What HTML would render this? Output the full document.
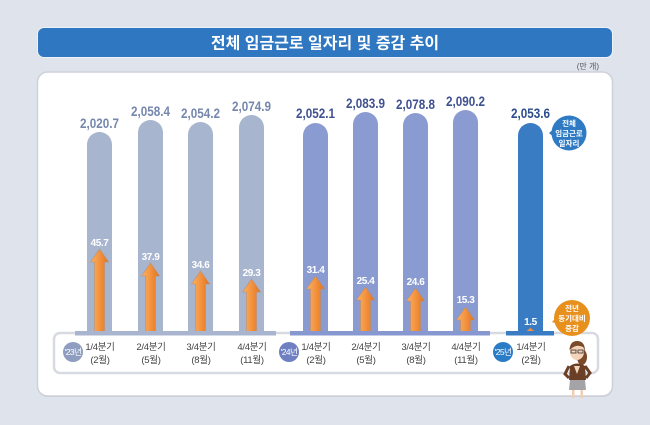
<!DOCTYPE html>
<html><head><meta charset="utf-8">
<style>
html,body{margin:0;padding:0;background:#dfe3ec;}
svg{display:block;}
text{font-family:"Liberation Sans","Noto Sans CJK KR",sans-serif;}
</style></head>
<body>
<svg width="650" height="425" viewBox="0 0 650 425" xmlns="http://www.w3.org/2000/svg">
<defs>
<linearGradient id="ar" x1="0" x2="1" y1="0" y2="0">
<stop offset="0" stop-color="#fbb263"/><stop offset="0.5" stop-color="#f39340"/><stop offset="1" stop-color="#e2731c"/>
</linearGradient>
</defs>
<rect width="650" height="425" fill="#dfe3ec"/>
<!-- title -->
<rect x="37" y="27" width="576" height="31" rx="7" fill="#eef1f7"/>
<rect x="38" y="28" width="574" height="29" rx="6" fill="#2f78c1"/>
<text x="325" y="48.5" text-anchor="middle" font-size="16" font-weight="bold" fill="#fff">전체 임금근로 일자리 및 증감 추이</text>
<text x="599" y="69" text-anchor="end" font-size="8" fill="#555">(만 개)</text>
<!-- panel -->
<rect x="38" y="73" width="575" height="324" rx="10" fill="#c9cdd6"/>
<rect x="37.5" y="72" width="575" height="324" rx="10" fill="#fff" stroke="#cdd1d9" stroke-width="1.5"/>
<!-- label box -->
<rect x="54" y="333" width="544" height="40" rx="6" fill="#fff" stroke="#d7dae1" stroke-width="2.5"/>

<!-- bars '23 -->
<g fill="#a8b5cf">
<path d="M87 333 V144.5 A12.5 12.5 0 0 1 112 144.5 V333 Z"/>
<path d="M138 333 V132.5 A12.5 12.5 0 0 1 163 132.5 V333 Z"/>
<path d="M188 333 V134.5 A12.5 12.5 0 0 1 213 134.5 V333 Z"/>
<path d="M239 333 V127.5 A12.5 12.5 0 0 1 264 127.5 V333 Z"/>
</g>
<g fill="#8a9bd1">
<path d="M303 333 V135.5 A12.5 12.5 0 0 1 328 135.5 V333 Z"/>
<path d="M353 333 V124.5 A12.5 12.5 0 0 1 378 124.5 V333 Z"/>
<path d="M403 333 V125.5 A12.5 12.5 0 0 1 428 125.5 V333 Z"/>
<path d="M453 333 V122.5 A12.5 12.5 0 0 1 478 122.5 V333 Z"/>
</g>
<path d="M518 333 V135.5 A12.5 12.5 0 0 1 543 135.5 V333 Z" fill="#3a7cc4"/>

<!-- value labels -->
<g font-size="14" text-anchor="middle" fill="#7587ad" font-weight="bold">
<text x="99.5" y="128" textLength="39" lengthAdjust="spacingAndGlyphs">2,020.7</text>
<text x="150.5" y="116" textLength="39" lengthAdjust="spacingAndGlyphs">2,058.4</text>
<text x="200.5" y="118" textLength="39" lengthAdjust="spacingAndGlyphs">2,054.2</text>
<text x="251.5" y="111" textLength="39" lengthAdjust="spacingAndGlyphs">2,074.9</text>
</g>
<g font-size="14" text-anchor="middle" fill="#3f5190" font-weight="bold">
<text x="315.5" y="118" textLength="39" lengthAdjust="spacingAndGlyphs">2,052.1</text>
<text x="365.5" y="108" textLength="39" lengthAdjust="spacingAndGlyphs">2,083.9</text>
<text x="415.5" y="109" textLength="39" lengthAdjust="spacingAndGlyphs">2,078.8</text>
<text x="465.5" y="106" textLength="39" lengthAdjust="spacingAndGlyphs">2,090.2</text>
<text x="530.5" y="118" fill="#2b4d8c" textLength="39" lengthAdjust="spacingAndGlyphs">2,053.6</text>
</g>

<!-- arrows -->
<g fill="url(#ar)" stroke="#b98a66" stroke-opacity="0.5" stroke-width="1">
<polygon points="99.5,249 108.5,262 104.5,262 104.5,333 94.5,333 94.5,262 90.5,262"/>
<polygon points="150.5,263 159.5,276 155.5,276 155.5,333 145.5,333 145.5,276 141.5,276"/>
<polygon points="200.5,271 209.5,284 205.5,284 205.5,333 195.5,333 195.5,284 191.5,284"/>
<polygon points="251.5,279 260.5,292 256.5,292 256.5,333 246.5,333 246.5,292 242.5,292"/>
<polygon points="315.5,276 324.5,289 320.5,289 320.5,333 310.5,333 310.5,289 306.5,289"/>
<polygon points="365.5,287 374.5,300 370.5,300 370.5,333 360.5,333 360.5,300 356.5,300"/>
<polygon points="415.5,288 424.5,301 420.5,301 420.5,333 410.5,333 410.5,301 406.5,301"/>
<polygon points="465.5,307 474.5,320 470.5,320 470.5,333 460.5,333 460.5,320 456.5,320"/>
<polygon points="530.5,328 536.5,333 524.5,333"/>
</g>
<g font-size="10" text-anchor="middle" fill="#fff" font-weight="bold" letter-spacing="-0.4">
<text x="99.5" y="246">45.7</text>
<text x="150.5" y="260">37.9</text>
<text x="200.5" y="268">34.6</text>
<text x="251.5" y="276">29.3</text>
<text x="315.5" y="273">31.4</text>
<text x="365.5" y="284">25.4</text>
<text x="415.5" y="285">24.6</text>
<text x="465.5" y="303">15.3</text>
<text x="530.5" y="325">1.5</text>
</g>

<!-- base strips -->
<rect x="75" y="331" width="201" height="4.5" fill="#a9b5cf"/>
<rect x="290" y="331" width="200" height="4.5" fill="#8797cf"/>
<rect x="506" y="331" width="48" height="4.5" fill="#3a7cc4"/>

<!-- year circles -->
<circle cx="73" cy="352" r="10" fill="#8e9dc0"/>
<circle cx="289" cy="352" r="10" fill="#6f80c2"/>
<circle cx="503" cy="352" r="10" fill="#2b7cc7"/>
<g font-size="8.5" text-anchor="middle" fill="#fff" letter-spacing="-0.6">
<text x="73" y="355">'23년</text>
<text x="289" y="355">'24년</text>
<text x="503" y="355">'25년</text>
</g>

<!-- quarter labels -->
<g font-size="9.5" text-anchor="middle" fill="#444" letter-spacing="-0.3">
<text x="100" y="350">1/4분기</text><text x="100" y="363">(2월)</text>
<text x="151" y="350">2/4분기</text><text x="151" y="363">(5월)</text>
<text x="201" y="350">3/4분기</text><text x="201" y="363">(8월)</text>
<text x="252" y="350">4/4분기</text><text x="252" y="363">(11월)</text>
<text x="316" y="350">1/4분기</text><text x="316" y="363">(2월)</text>
<text x="366" y="350">2/4분기</text><text x="366" y="363">(5월)</text>
<text x="416" y="350">3/4분기</text><text x="416" y="363">(8월)</text>
<text x="466" y="350">4/4분기</text><text x="466" y="363">(11월)</text>
<text x="531" y="350">1/4분기</text><text x="531" y="363">(2월)</text>
</g>

<!-- callouts -->
<polygon points="549,133 556,127 556,139" fill="#2e7bc4"/>
<circle cx="569" cy="133" r="17.5" fill="#2e7bc4"/>
<g font-size="7.5" text-anchor="middle" fill="#fff" font-weight="bold">
<text x="569" y="126">전체</text>
<text x="569" y="136">임금근로</text>
<text x="569" y="146">일자리</text>
</g>
<polygon points="552,322 560,313 561,325" fill="#e8901e"/>
<circle cx="572" cy="318" r="18" fill="#e8901e"/>
<g font-size="7.5" text-anchor="middle" fill="#fff" font-weight="bold">
<text x="572" y="311">전년</text>
<text x="572" y="321">동기대비</text>
<text x="572" y="331">증감</text>
</g>

<!-- character -->
<g>
<ellipse cx="582" cy="357" rx="5" ry="8" fill="#7a4a2a"/>
<path d="M569 380 L570 366 Q577 361 585 366 L586 380 Z" fill="#6b3f26"/>
<polygon points="574,366 577,374 580,366" fill="#f3d6c0"/>
<path d="M569 366 L565 374 L569 378" stroke="#6b3f26" stroke-width="3" fill="none"/>
<path d="M585 366 L590 373 L586 378" stroke="#6b3f26" stroke-width="3" fill="none"/>
<path d="M570 380 L585 380 L586 390 L569 390 Z" fill="#a4a4a8"/>
<rect x="572" y="390" width="2.5" height="8" fill="#f1cdb2"/>
<rect x="580.5" y="390" width="2.5" height="8" fill="#f1cdb2"/>
<ellipse cx="577" cy="352" rx="7" ry="8" fill="#f5d3b8"/>
<path d="M569.5 350 Q570 341 577 341 Q585 341 585 351 L583 347 Q577 344 572 348 Z" fill="#7a4a2a"/>
<rect x="571" y="350" width="5" height="3" fill="none" stroke="#333" stroke-width="0.8"/>
<rect x="578" y="350" width="5" height="3" fill="none" stroke="#333" stroke-width="0.8"/>
</g>
</svg>
</body></html>
